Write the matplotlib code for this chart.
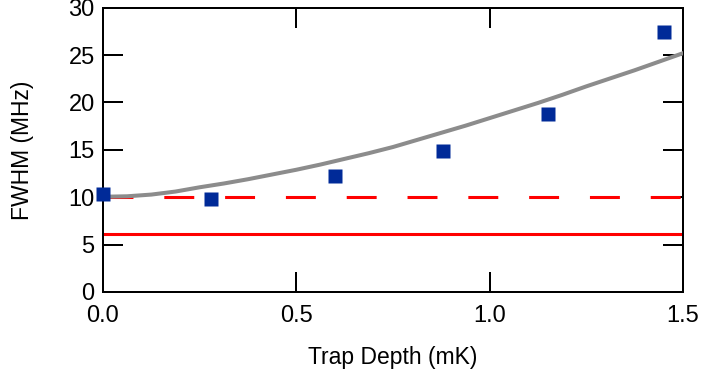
import matplotlib
matplotlib.use("Agg")
import matplotlib.pyplot as plt

plt.rcParams['font.family'] = ['Liberation Sans', 'DejaVu Sans']

# measured data
depth = [0.0, 0.28, 0.60, 0.88, 1.15, 1.45]
fwhm = [10.3, 9.8, 12.2, 14.9, 18.8, 27.4]

# fit curve
fit_x = [0.0, 0.0625, 0.125, 0.1875, 0.25, 0.3125, 0.375, 0.4375, 0.5, 0.5625,
         0.625, 0.6875, 0.75, 0.8125, 0.875, 0.9375, 1.0, 1.0625, 1.125, 1.1875,
         1.25, 1.3125, 1.375, 1.4375, 1.5]
fit_y = [10.05, 10.1, 10.28, 10.6, 11.05, 11.45, 11.9, 12.4, 12.9, 13.45,
         14.05, 14.65, 15.3, 16.05, 16.8, 17.55, 18.35, 19.15, 19.95, 20.8,
         21.7, 22.55, 23.4, 24.3, 25.2]

# reference levels
level_dashed = 10.0
level_solid = 6.1

x_ticks = [0.0, 0.5, 1.0, 1.5]
x_ticklabels = ["0.0", "0.5", "1.0", "1.5"]
y_ticks = [0, 5, 10, 15, 20, 25, 30]

fig = plt.figure(figsize=(7.02, 3.79), dpi=100)
ax = fig.add_axes([103/702, 1-292/379, 580/702, (292-7.7)/379])

ax.plot([0, 1.5], [level_solid]*2, color='#ff0000', lw=2.2, zorder=2)
ax.plot([0, 1.5], [level_dashed]*2, color='#ff0000', lw=2.2,
        linestyle=(0, (9.8, 10.1)), zorder=2)
ax.plot(fit_x, fit_y, color='#8c8c8c', lw=2.9, zorder=3)
ax.plot(depth, fwhm, linestyle='none', marker='s', markersize=9.4,
        markerfacecolor='#002a98', markeredgecolor='none', zorder=5, clip_on=False)

ax.set_xlim(0, 1.5)
ax.set_ylim(0, 30)
ax.set_xticks(x_ticks)
ax.set_xticklabels(x_ticklabels)
ax.set_yticks(y_ticks)
ax.tick_params(direction='in', length=14.4, width=1.44, top=True, right=True,
               labelsize=17, colors='black')
ax.tick_params(axis='x', pad=9.5)
ax.tick_params(axis='y', pad=6)
for s in ax.spines.values():
    s.set_linewidth(1.44)

ax.set_xlabel("Trap Depth (mK)", fontsize=16.5)
ax.set_ylabel("FWHM (MHz)", fontsize=16.5)
ax.xaxis.set_label_coords(0.5, (292-346)/284.3)
ax.yaxis.set_label_coords((34-103)/580, 0.5)

fig.savefig("out.png", dpi=100)
